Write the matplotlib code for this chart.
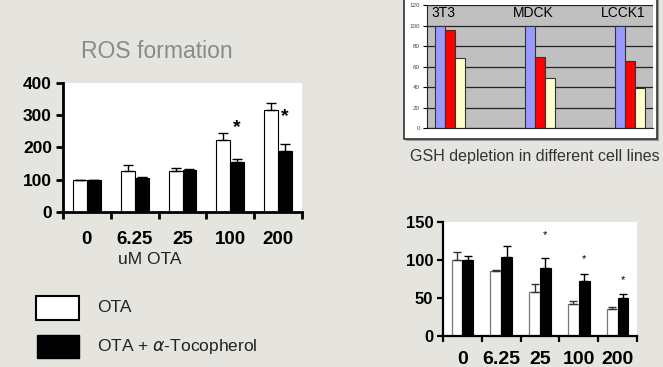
import matplotlib
matplotlib.use('Agg')
import matplotlib.pyplot as plt
from matplotlib.patches import Rectangle
import numpy as np

plt.rcParams['font.family'] = ['Liberation Sans', 'DejaVu Sans']

BG = '#E5E4DF'

# ROS formation (left chart)
doses = ['0', '6.25', '25', '100', '200']
ros_ota = [100, 126, 126, 224, 316]
ros_ota_err = [0, 20, 10, 22, 21]
ros_toco = [100, 106, 129, 155, 190]
ros_toco_err = [0, 3, 5, 10, 22]
ros_star_y = [None, None, None, 262, 295]

# GSH depletion (top right)
cell_lines = ['3T3', 'MDCK', 'LCCK1']
gsh_blue = [100, 100, 100]
gsh_red = [96, 69, 65]
gsh_yellow = [68, 49, 39]

# viability (bottom right)
via_ota = [100, 85, 58, 42, 35]
via_ota_err = [10, 2, 11, 3.5, 3.5]
via_toco = [100, 104, 90, 73, 50]
via_toco_err = [5, 15, 12, 8.5, 5]
via_star_y = [None, None, 133, 101, 74]

W, H = 663, 367
fig = plt.figure(figsize=(W / 100, H / 100), dpi=100, facecolor=BG)


def fx(px):
    return px / W


def fy(py):
    return 1 - py / H


# ---------------- left chart ----------------
ax1 = fig.add_axes([fx(63), fy(212), fx(239), 129 / H], facecolor='white')
x = np.arange(len(doses))
bw = 0.29
ax1.bar(x - bw / 2, ros_ota, bw, color='white', edgecolor='black', linewidth=0.8, zorder=2)
ax1.bar(x + bw / 2, ros_toco, bw, color='black', edgecolor='black', linewidth=0.8, zorder=2)
ax1.errorbar(x - bw / 2, ros_ota, yerr=[np.zeros(len(x)), ros_ota_err], fmt='none',
             ecolor='black', elinewidth=1, capsize=3.5, capthick=1, zorder=3)
ax1.errorbar(x + bw / 2, ros_toco, yerr=[np.zeros(len(x)), ros_toco_err], fmt='none',
             ecolor='black', elinewidth=1, capsize=3.5, capthick=1, zorder=1)
for i, sy in enumerate(ros_star_y):
    if sy is not None:
        ax1.text(i + bw / 2, sy, '*', ha='center', va='center', fontsize=14,
                 fontweight='bold')
ax1.set_xlim(-0.5, 4.5)
ax1.set_ylim(0, 400)
ax1.set_yticks([0, 100, 200, 300, 400])
ax1.set_xticks(np.arange(-0.5, 5, 1))
ax1.set_xticklabels([])
ax1.set_xticks(x, minor=True)
ax1.set_xticklabels(doses, minor=True)
ax1.tick_params(axis='x', which='minor', length=0, pad=14, labelsize=13.5)
ax1.tick_params(axis='x', which='major', length=5, width=2, direction='out')
ax1.tick_params(axis='y', length=5, width=2, direction='out', labelsize=12.5, pad=3)
for lab in ax1.get_xticklabels(minor=True) + ax1.get_yticklabels():
    lab.set_fontweight('bold')
for s in ['top', 'right']:
    ax1.spines[s].set_visible(False)
for s in ['left', 'bottom']:
    ax1.spines[s].set_linewidth(2)
fig.text(fx(157), fy(51), 'ROS formation', ha='center', va='center',
         fontsize=16.5, color='#8a8a8a')
fig.text(fx(150), fy(259), 'uM OTA', ha='center', va='center', fontsize=12.5,
         color='#222222')

# legend
fig.patches.append(Rectangle((fx(36), fy(320)), fx(43), 24 / H, transform=fig.transFigure,
                             facecolor='white', edgecolor='black', linewidth=1.5))
fig.patches.append(Rectangle((fx(37), fy(358)), fx(42), 23 / H, transform=fig.transFigure,
                             facecolor='black', edgecolor='black', linewidth=1))
fig.text(fx(97), fy(307), 'OTA', ha='left', va='center', fontsize=12.5, color='#222222')
fig.text(fx(97), fy(346), r'OTA + $\alpha$-Tocopherol', ha='left', va='center',
         fontsize=12.5, color='#222222')

# ---------------- top right chart ----------------
fig.patches.append(Rectangle((fx(406), fy(141)), fx(253), 0.5, transform=fig.transFigure,
                             facecolor='#9a9a96', edgecolor='none', zorder=-2))
fig.patches.append(Rectangle((fx(404), fy(139)), fx(253), 0.5, transform=fig.transFigure,
                             facecolor='white', edgecolor='#333333', linewidth=1.2,
                             zorder=-1))
ax2 = fig.add_axes([fx(427), fy(128), fx(226), 123 / H], facecolor='#C0C0C0')
xc = np.arange(len(cell_lines))
gw = 0.111
ax2.bar(xc - gw, gsh_blue, gw, color='#9999FF', edgecolor='#333333', linewidth=0.8, zorder=2)
ax2.bar(xc, gsh_red, gw, color='#FF0000', edgecolor='#333333', linewidth=0.8, zorder=2)
ax2.bar(xc + gw, gsh_yellow, gw, color='#FFFFCC', edgecolor='#333333', linewidth=0.8, zorder=2)
for i, name in enumerate(cell_lines):
    ax2.text(i - 0.07, 112, name, ha='center', va='center', fontsize=10, zorder=3)
ax2.set_xlim(-0.256, 2.256)
ax2.set_ylim(0, 120)
ax2.set_yticks(np.arange(0, 121, 20))
ax2.set_xticks([])
ax2.grid(axis='y', color='#222222', linewidth=0.9, zorder=1)
ax2.set_axisbelow(True)
ax2.tick_params(axis='y', length=3, width=0.8, labelsize=4.5, labelcolor='#444444', pad=2)
for s in ['top', 'right']:
    ax2.spines[s].set_visible(False)
ax2.spines['left'].set_color('#222222')
ax2.spines['bottom'].set_color('#222222')
fig.text(fx(535), fy(157), 'GSH depletion in different cell lines', ha='center',
         va='center', fontsize=11.5, color='#333333')

# ---------------- bottom right chart ----------------
ax3 = fig.add_axes([fx(443), fy(336), fx(194), 114 / H], facecolor='white')
bw3 = 0.28
ax3.bar(x - bw3 / 2, via_ota, bw3, color='white', edgecolor='#777777', linewidth=0.9, zorder=2)
ax3.bar(x + bw3 / 2, via_toco, bw3, color='black', edgecolor='black', linewidth=0.8, zorder=2)
ax3.errorbar(x - bw3 / 2, via_ota, yerr=[np.zeros(len(x)), via_ota_err], fmt='none',
             ecolor='#333333', elinewidth=1, capsize=3, capthick=1, zorder=3)
ax3.errorbar(x + bw3 / 2, via_toco, yerr=[np.zeros(len(x)), via_toco_err], fmt='none',
             ecolor='black', elinewidth=1, capsize=3, capthick=1, zorder=1)
for i, sy in enumerate(via_star_y):
    if sy is not None:
        ax3.text(i + bw3 / 2, sy, '*', ha='center', va='center', fontsize=8)
ax3.set_xlim(-0.5, 4.5)
ax3.set_ylim(0, 150)
ax3.set_yticks([0, 50, 100, 150])
ax3.set_xticks(np.arange(-0.5, 5, 1))
ax3.set_xticklabels([])
ax3.set_xticks(x, minor=True)
ax3.set_xticklabels(doses, minor=True)
ax3.tick_params(axis='x', which='minor', length=0, pad=11, labelsize=14)
ax3.tick_params(axis='x', which='major', length=4, width=1.6, direction='out')
ax3.tick_params(axis='y', length=4, width=1.6, direction='out', labelsize=12, pad=3)
for lab in ax3.get_xticklabels(minor=True) + ax3.get_yticklabels():
    lab.set_fontweight('bold')
for s in ['top', 'right']:
    ax3.spines[s].set_visible(False)
for s in ['left', 'bottom']:
    ax3.spines[s].set_linewidth(1.6)

fig.savefig('out.png', dpi=100, facecolor=BG)
